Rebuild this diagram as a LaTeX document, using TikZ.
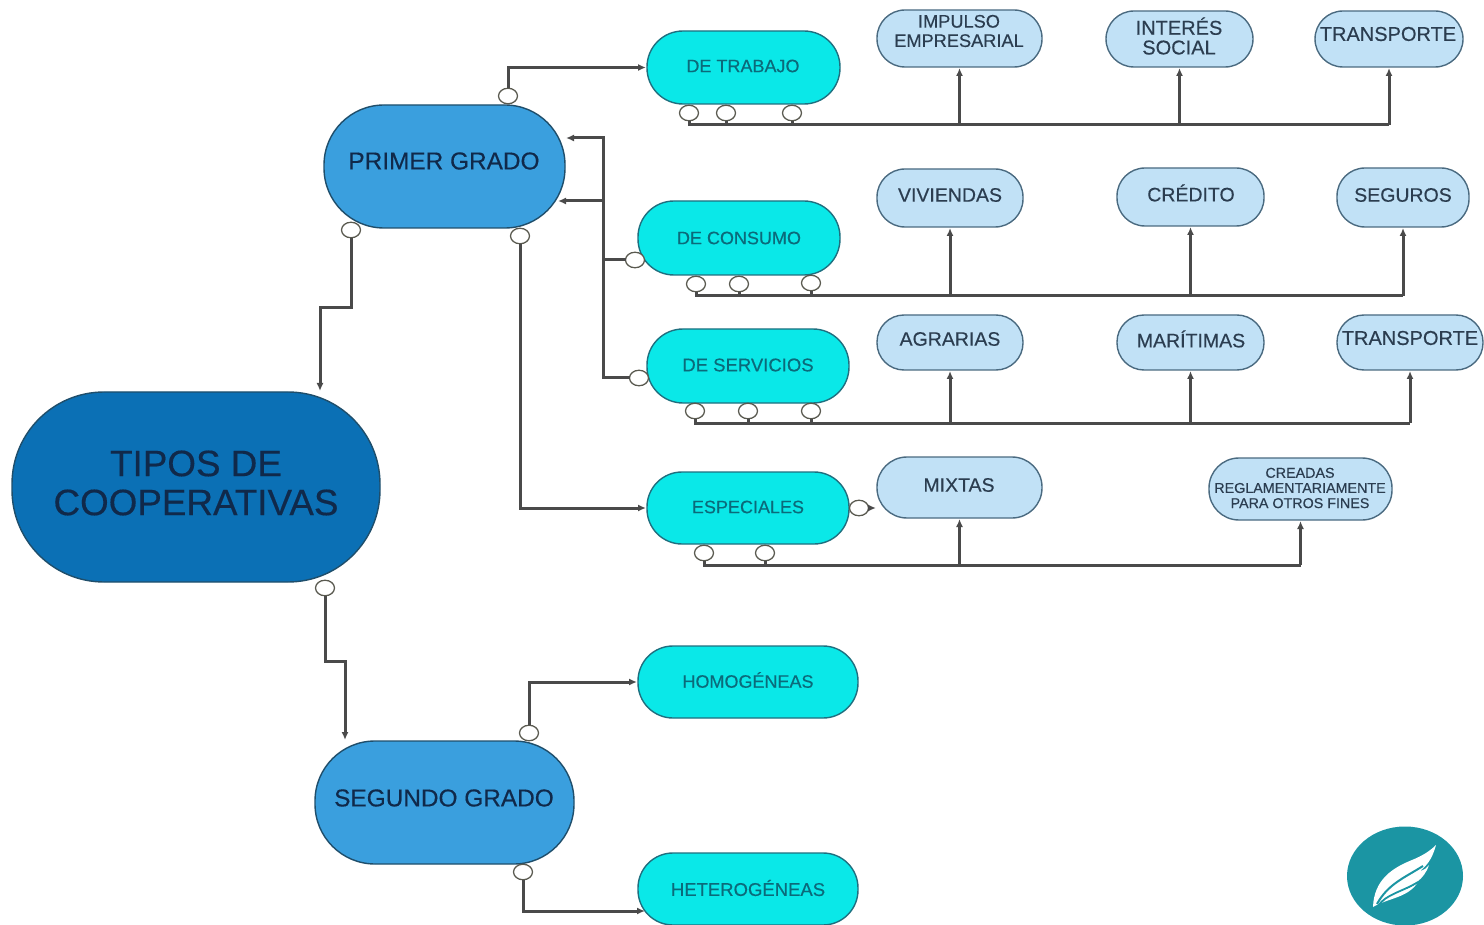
\documentclass[tikz,border=0pt]{standalone}
\usepackage{fontspec}
\setmainfont[FakeBold=0.35]{Liberation Sans}
\usetikzlibrary{arrows.meta,shapes.geometric}
\definecolor{cTop}{HTML}{0B70B5}
\definecolor{cMid}{HTML}{3A9FDE}
\definecolor{cCyan}{HTML}{0AE8E8}
\definecolor{cPale}{HTML}{C1E1F6}
\definecolor{cEdge}{HTML}{1F4E6B}
\definecolor{cEdgeB}{HTML}{1F6F7F}
\definecolor{cEdgeC}{HTML}{4A6A80}
\definecolor{cLine}{HTML}{4A4A4A}
\definecolor{cRing}{HTML}{5A5A50}
\definecolor{cInk}{HTML}{10294A}
\definecolor{cInkB}{HTML}{0B6A7A}
\definecolor{cInkC}{HTML}{2B3D50}
\definecolor{cLogo}{HTML}{1B95A3}
\tikzset{
  basebox/.style={line width=1.4pt,inner sep=0pt,outer sep=0pt},
  topbox/.style={basebox,draw=cEdge,fill=cTop},
  midbox/.style={basebox,draw=cEdge,fill=cMid},
  cyanbox/.style={basebox,draw=cEdgeB,fill=cCyan},
  palebox/.style={basebox,draw=cEdgeC,fill=cPale},
  ring/.style={ellipse,draw=cRing,fill=white,line width=1.3pt,inner sep=0pt,outer sep=0pt,
    minimum width=19pt,minimum height=15.5pt},
  conn/.style={draw=cLine,line width=3pt},
  link/.style={conn,-{Latex[length=8pt,width=7pt]},shorten >=1pt},
}
% name x1 y1 x2 y2 radius style textx texty | size colour text
\newcommand\cbox[9]{%
  \pgfmathsetmacro\bcx{(#2+#4)/2}%
  \pgfmathsetmacro\bcy{(#3+#5)/2}%
  \pgfmathsetmacro\bw{#4-#2}%
  \pgfmathsetmacro\bh{#5-#3}%
  \pgfmathsetmacro\bdx{#8-\bcx}%
  \pgfmathsetmacro\bdy{\bcy-#9}%
  \def\bname{#1}\def\brad{#6}\def\bsty{#7}%
  \cboxrest}
\newcommand\cboxrest[3]{%
  \pgfmathsetmacro\blead{#1*1.06}%
  \node[\bsty,rounded corners=\brad pt,minimum width=\bw pt,minimum height=\bh pt,
    label={[xshift=\bdx pt,yshift=\bdy pt,inner sep=0pt,align=center,text=#2,
      font=\fontsize{#1}{\blead}\selectfont]center:{#3}}]
    (\bname) at (\bcx,\bcy) {};}
\begin{document}
\begin{tikzpicture}[x=1pt,y=-1pt]
\useasboundingbox (0,0) rectangle (1484,925);
% main boxes
\cbox{tipos}{12}{392}{380}{582}{92}{topbox}{196}{483}{36.8}{cInk}{TIPOS DE\\COOPERATIVAS}
\cbox{primer}{324}{105}{565}{228}{60}{midbox}{444}{161}{24.4}{cInk}{PRIMER GRADO}
\cbox{segundo}{315}{741}{574}{864}{60}{midbox}{444}{798}{24.4}{cInk}{SEGUNDO GRADO}
% second level
\cbox{trabajo}{647}{31}{840}{104}{36}{cyanbox}{743}{66}{18}{cInkB}{DE TRABAJO}
\cbox{consumo}{638}{201}{840}{275}{36}{cyanbox}{739}{238}{18}{cInkB}{DE CONSUMO}
\cbox{servicios}{647}{329}{849}{403}{36}{cyanbox}{748}{365}{18.5}{cInkB}{DE SERVICIOS}
\cbox{especiales}{647}{472}{849}{544}{35}{cyanbox}{748}{507}{18}{cInkB}{ESPECIALES}
\cbox{homog}{638}{646}{858}{718}{35}{cyanbox}{748}{680}{18}{cInkB}{HOMOGÉNEAS}
\cbox{heterog}{638}{853}{858}{925}{35}{cyanbox}{748}{888}{18.5}{cInkB}{HETEROGÉNEAS}
% third level
\cbox{impulso}{877}{10}{1042}{67}{28}{palebox}{959}{31}{18.2}{cInkC}{IMPULSO\\EMPRESARIAL}
\cbox{interes}{1106}{11}{1253}{67}{28}{palebox}{1179}{36}{20}{cInkC}{INTERÉS\\[-1.5pt]SOCIAL}
\cbox{transa}{1315}{11}{1463}{67}{28}{palebox}{1388}{34}{20}{cInkC}{TRANSPORTE}
\cbox{viviendas}{877}{169}{1023}{227}{28}{palebox}{950}{195}{19.5}{cInkC}{VIVIENDAS}
\cbox{credito}{1117}{168}{1264}{226}{28}{palebox}{1191}{193}{19.5}{cInkC}{CRÉDITO}
\cbox{seguros}{1337}{168}{1469}{227}{28}{palebox}{1403}{195}{19.5}{cInkC}{SEGUROS}
\cbox{agrarias}{877}{315}{1023}{370}{27}{palebox}{950}{339}{19.5}{cInkC}{AGRARIAS}
\cbox{maritimas}{1117}{315}{1264}{370}{27}{palebox}{1191}{339}{19.5}{cInkC}{MARÍTIMAS}
\cbox{transb}{1337}{315}{1483}{370}{27}{palebox}{1410}{338}{20}{cInkC}{TRANSPORTE}
\cbox{mixtas}{877}{457}{1042}{518}{30}{palebox}{959}{485}{19.5}{cInkC}{MIXTAS}
\cbox{creadas}{1209}{458}{1392}{520}{30}{palebox}{1300}{488}{14.3}{cInkC}{CREADAS\\REGLAMENTARIAMENTE\\PARA OTROS FINES}
% rings
\node[ring] (r1) at (508,96) {};
\node[ring] (r2) at (351,230) {};
\node[ring] (r3) at (520,236) {};
\node[ring] (t1) at (689,113) {};
\node[ring] (t2) at (726,113) {};
\node[ring] (t3) at (792,113) {};
\node[ring] (c0) at (635,260) {};
\node[ring] (c1) at (696,284) {};
\node[ring] (c2) at (739,284) {};
\node[ring] (c3) at (811,283) {};
\node[ring] (s0) at (639,378) {};
\node[ring] (s1) at (695,411) {};
\node[ring] (s2) at (748,411) {};
\node[ring] (s3) at (811,411) {};
\node[ring] (e0) at (859,508) {};
\node[ring] (e1) at (704,553) {};
\node[ring] (e2) at (765,553) {};
\node[ring] (g0) at (325,588) {};
\node[ring] (g1) at (529,733) {};
\node[ring] (g2) at (523,872) {};
% routing points
\coordinate (tb) at (689,125);
\coordinate (cb) at (696,296);
\coordinate (sb) at (695,423);
\coordinate (eb) at (704,565);
\coordinate (tipin) at (320,392);
\coordinate (segin) at (345,741);
\coordinate (pin1) at (565,138);
\coordinate (pin2) at (557,201);
\coordinate (jv) at (603,260);
\coordinate (esin) at (647,508);
\coordinate (hoin) at (638,682);
\coordinate (hein) at (646,911);
% connectors
\draw[link] (r1.north) |- (trabajo.west);
\draw[link] (r2.south) -- (r2.south |- 0,308) -- (tipin |- 0,308) -- (tipin);
\draw[link] (r3.south) |- (esin);
\draw[conn] (c0.west) -- (jv);
\draw[link] (s0.west) -| (jv) |- (pin1);
\draw[link] (jv |- pin2) -- (pin2);
\draw[link] (e0.east) -- (mixtas.west |- e0.east);
\draw[link] (g0.south) -- (g0.south |- 0,661) -- (segin |- 0,661) -- (segin);
\draw[link] (g1.north) |- (hoin);
\draw[link] (g2.south) |- (hein);
% bus: de trabajo
\draw[conn] (t1.south) -- (tb) -- (transa.south |- tb);
\draw[conn] (t2.south) -- (t2.south |- tb);
\draw[conn] (t3.south) -- (t3.south |- tb);
\draw[link] (impulso.south |- tb) -- (impulso.south);
\draw[link] (interes.south |- tb) -- (interes.south);
\draw[link] (transa.south |- tb) -- (transa.south);
% bus: de consumo
\draw[conn] (c1.south) -- (cb) -- (seguros.south |- cb);
\draw[conn] (c2.south) -- (c2.south |- cb);
\draw[conn] (c3.south) -- (c3.south |- cb);
\draw[link] (viviendas.south |- cb) -- (viviendas.south);
\draw[link] (credito.south |- cb) -- (credito.south);
\draw[link] (seguros.south |- cb) -- (seguros.south);
% bus: de servicios
\draw[conn] (s1.south) -- (sb) -- (transb.south |- sb);
\draw[conn] (s2.south) -- (s2.south |- sb);
\draw[conn] (s3.south) -- (s3.south |- sb);
\draw[link] (agrarias.south |- sb) -- (agrarias.south);
\draw[link] (maritimas.south |- sb) -- (maritimas.south);
\draw[link] (transb.south |- sb) -- (transb.south);
% bus: especiales
\draw[conn] (e1.south) -- (eb) -- (creadas.south |- eb);
\draw[conn] (e2.south) -- (e2.south |- eb);
\draw[link] (mixtas.south |- eb) -- (mixtas.south);
\draw[link] (creadas.south |- eb) -- (creadas.south);
% logo
\fill[cLogo] (1405,876) ellipse [x radius=58,y radius=49.5];
\fill[white] (1373,907) .. controls (1374,880) and (1392,868) .. (1412,860)
  .. controls (1422,856) and (1430,851) .. (1436,845)
  .. controls (1432,860) and (1426,866) .. (1420,871)
  .. controls (1424,870) and (1427,868) .. (1429,865)
  .. controls (1424,880) and (1412,886) .. (1402,890)
  .. controls (1408,889) and (1414,886) .. (1418,882)
  .. controls (1408,898) and (1388,898) .. (1373,907) -- cycle;
\draw[cLogo,line width=2pt] (1377,904) .. controls (1388,884) and (1404,878) .. (1423,866);
\draw[cLogo,line width=1.8pt] (1378,906) .. controls (1386,894) and (1402,892) .. (1418,882);
\end{tikzpicture}
\end{document}
